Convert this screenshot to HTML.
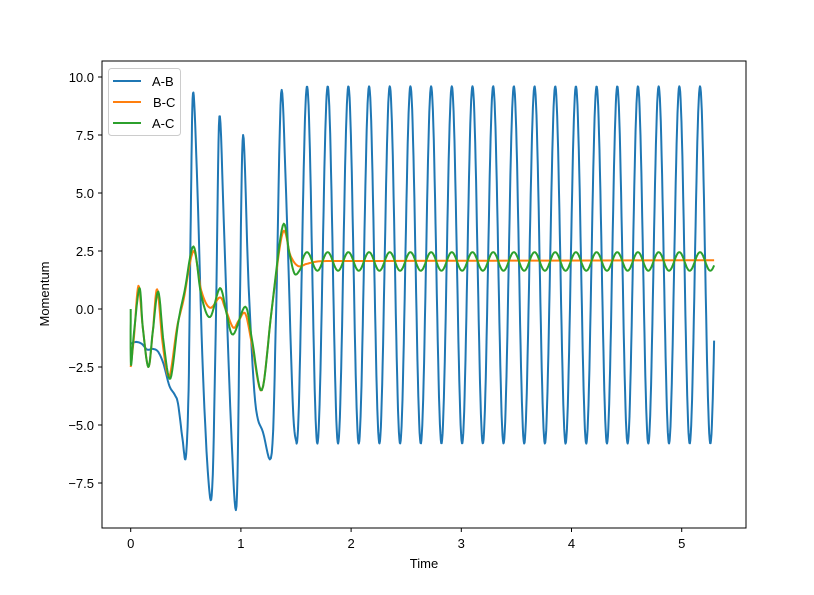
<!DOCTYPE html>
<html><head><meta charset="utf-8"><style>
body{margin:0;background:#fff;}
svg{display:block;font-family:"Liberation Sans","DejaVu Sans",sans-serif;}
</style></head><body>
<svg id="s" width="814" height="595" viewBox="0 0 814 595" xmlns="http://www.w3.org/2000/svg">
<rect width="814" height="595" fill="#fff"/>
<defs><clipPath id="c"><rect x="102" y="61" width="644" height="467"/></clipPath></defs>
<g id="plot" clip-path="url(#c)" fill="none" stroke-width="2" stroke-linejoin="round"></g>
<rect x="102" y="61" width="644" height="467" fill="none" stroke="#000" stroke-width="1"/>
<g id="ticks" stroke="#000" stroke-width="1"></g>
<g id="labels" font-size="13" fill="#000"></g>
<text x="424" y="568" font-size="13" text-anchor="middle">Time</text>
<text x="49" y="294" font-size="13" text-anchor="middle" transform="rotate(-90 49 294)">Momentum</text>
<g>
<rect x="108.5" y="68.5" width="72" height="67" rx="3" fill="#fff" fill-opacity="0.8" stroke="#ccc"/>
<line x1="113" y1="81" x2="141" y2="81" stroke="#1f77b4" stroke-width="2"/>
<line x1="113" y1="102" x2="141" y2="102" stroke="#ff7f0e" stroke-width="2"/>
<line x1="113" y1="123" x2="141" y2="123" stroke="#2ca02c" stroke-width="2"/>
<text x="152" y="86" font-size="13">A-B</text>
<text x="153" y="107" font-size="13">B-C</text>
<text x="152" y="128" font-size="13">A-C</text>
</g>
</svg>
<script>
const X=t=>130.7+t*110.2, Y=v=>309-v*23.2;
const ns="http://www.w3.org/2000/svg";
function el(p,tag,a,txt){const e=document.createElementNS(ns,tag);for(const k in a)e.setAttribute(k,a[k]);if(txt!==undefined)e.textContent=txt;p.appendChild(e);return e;}
const tk=document.getElementById('ticks'),lb=document.getElementById('labels');
for(let i=0;i<=5;i++){const x=X(i);el(tk,'line',{x1:x,y1:528,x2:x,y2:532});el(lb,'text',{x:x,y:548,'text-anchor':'middle'},String(i));}
for(let v=-7.5;v<=10;v+=2.5){const y=Y(v);el(tk,'line',{x1:98,y1:y,x2:102,y2:y});el(lb,'text',{x:94,y:y+5,'text-anchor':'end'},(v<0?'\u2212':'')+Math.abs(v).toFixed(1));}
function cr(pts){let out=[];for(let i=0;i<pts.length-1;i++){const p0=pts[Math.max(0,i-1)],p1=pts[i],p2=pts[i+1],p3=pts[Math.min(pts.length-1,i+2)];
for(let s=0;s<8;s++){const u=s/8,u2=u*u,u3=u2*u;const f=(a,b,c,d)=>0.5*((2*b)+(-a+c)*u+(2*a-5*b+4*c-d)*u2+(-a+3*b-3*c+d)*u3);out.push([f(p0[0],p1[0],p2[0],p3[0]),f(p0[1],p1[1],p2[1],p3[1])]);}}
out.push(pts[pts.length-1]);return out;}
function path(pts,col){const d=pts.map((p,i)=>(i?'L':'M')+X(p[0]).toFixed(1)+' '+Y(p[1]).toFixed(1)).join('');el(document.getElementById('plot'),'path',{d:d,stroke:col});}
const P=0.1877,T0=1.6,TE=5.294;
let ab=[[0,-1.5],[0.05,-1.42],[0.1,-1.5],[0.15,-1.75],[0.2,-1.72],[0.25,-1.85],[0.3,-2.4],[0.35,-3.3],[0.4,-3.7],[0.43,-4.1],[0.47,-5.6],[0.5,-6.4],[0.525,-3.5],[0.545,4],[0.565,9.3],[0.6,6],[0.65,-2],[0.7,-7],[0.74,-7.7],[0.775,0],[0.805,8.3],[0.85,3],[0.91,-5],[0.96,-8.5],[0.99,0],[1.02,7.5],[1.07,1],[1.13,-4],[1.2,-5.3],[1.28,-6.2],[1.32,0],[1.365,9.3],[1.41,5],[1.47,-4],[1.505,-5.8]];
let abp=cr(ab);
for(let t=1.51;t<=TE;t+=0.004){abp.push([t,1.9+7.7*Math.cos(2*Math.PI*(t-T0)/P)]);}
abp.push([TE,1.9+7.7*Math.cos(2*Math.PI*(TE-T0)/P)]);
let bc=[[0,-2.5],[0.03,-1.2],[0.07,1.0],[0.11,-0.8],[0.16,-2.5],[0.2,-1.0],[0.24,0.85],[0.29,-1.5],[0.35,-2.9],[0.42,-0.8],[0.48,0.4],[0.57,2.5],[0.64,0.8],[0.72,0.05],[0.81,0.5],[0.86,0],[0.93,-0.8],[0.98,-0.5],[1.04,-0.2],[1.1,-1.5],[1.19,-3.5],[1.28,0],[1.38,3.3],[1.45,2.3],[1.52,1.85],[1.6,1.95],[1.7,2.05],[1.85,2.07],[2.2,2.07],[TE,2.1]];
let bcp=cr(bc);
let ac=[[0,0],[0.002,-2.4],[0.03,-1.0],[0.08,0.9],[0.11,-0.8],[0.16,-2.5],[0.2,-1.0],[0.25,0.75],[0.3,-1.5],[0.36,-3.0],[0.43,-0.6],[0.49,0.8],[0.57,2.7],[0.64,0.6],[0.72,-0.35],[0.81,0.9],[0.87,-0.2],[0.93,-1.1],[1.04,0.1],[1.1,-1.3],[1.19,-3.5],[1.28,0],[1.38,3.6],[1.44,2.4],[1.49,1.5],[1.55,1.8]];
let acp=cr(ac);
for(let t=1.56;t<=TE;t+=0.004){acp.push([t,2.05+0.4*Math.cos(2*Math.PI*(t-T0)/P)]);}
acp.push([TE,2.05+0.4*Math.cos(2*Math.PI*(TE-T0)/P)]);
path(abp,'#1f77b4');path(bcp,'#ff7f0e');path(acp,'#2ca02c');
</script>
</body></html>
